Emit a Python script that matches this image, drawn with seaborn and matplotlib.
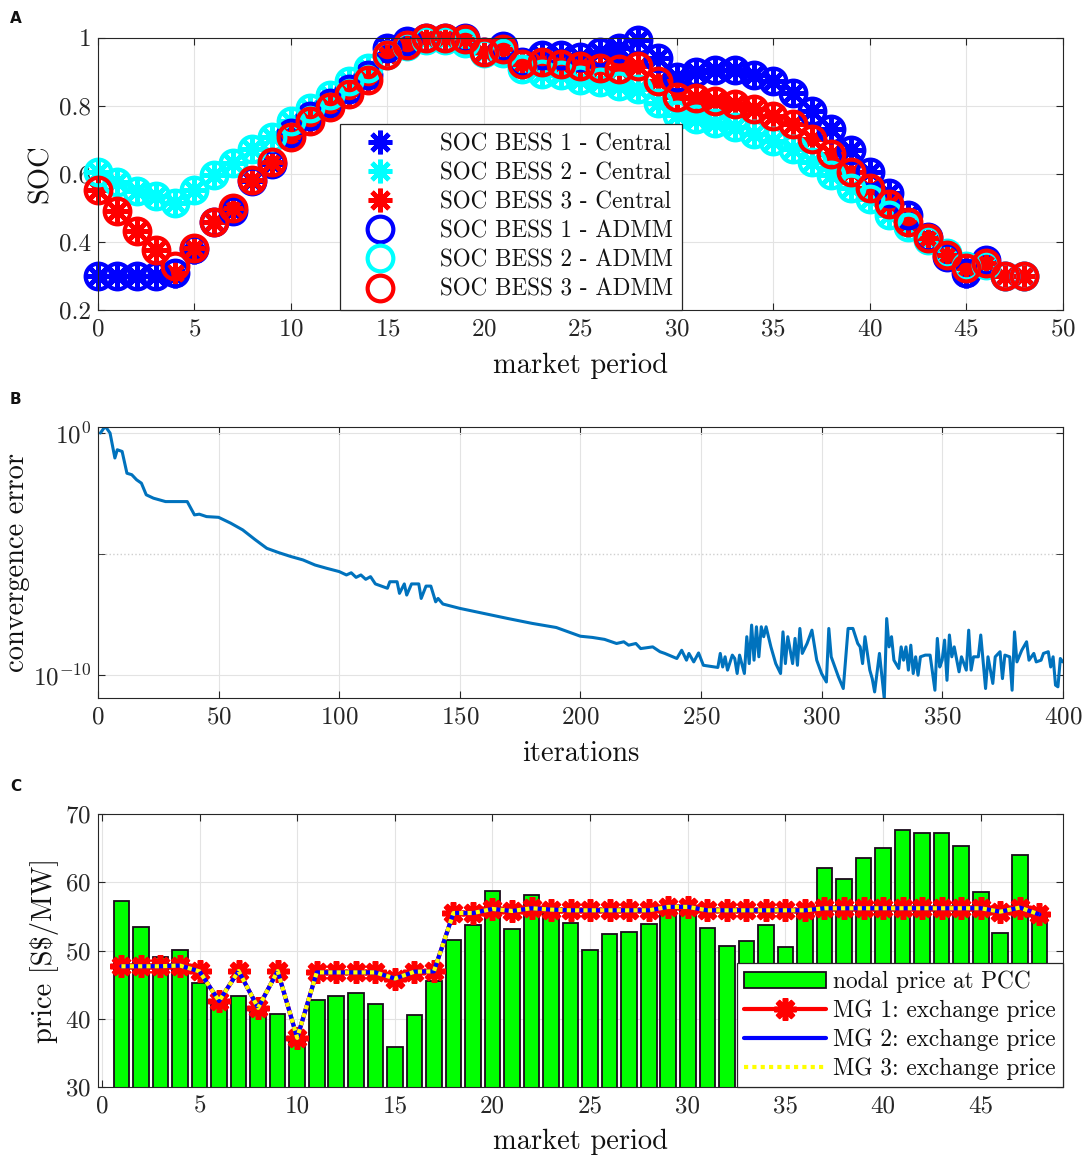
import numpy as np
import pandas as pd
import seaborn as sns
import matplotlib
matplotlib.use('Agg')
from matplotlib import pyplot as plt
from matplotlib.patches import Patch
from matplotlib.lines import Line2D


## DADOS - PAINEL A (SOC por periodo de mercado)

periods_a = list(range(49))

soc1_central = [0.30, 0.30, 0.30, 0.30, 0.30, 0.37, 0.46, 0.49, 0.58, 0.63,
                0.72, 0.77, 0.81, 0.86, 0.89, 0.975, 0.99, 1.0, 1.0, 1.0,
                0.955, 0.98, 0.93, 0.95, 0.95, 0.945, 0.96, 0.97, 0.995, 0.94,
                0.885, 0.90, 0.905, 0.907, 0.892, 0.872, 0.838, 0.786, 0.732, 0.669,
                0.607, 0.544, 0.48, 0.414, 0.357, 0.30, 0.347, 0.30, 0.30]
soc2_central = [0.605, 0.575, 0.551, 0.534, 0.514, 0.553, 0.598, 0.632, 0.673, 0.71,
                0.755, 0.794, 0.833, 0.872, 0.912, 0.95, 0.975, 0.995, 0.995, 0.985,
                0.955, 0.955, 0.91, 0.895, 0.89, 0.877, 0.869, 0.86, 0.85, 0.809,
                0.774, 0.762, 0.75, 0.737, 0.716, 0.696, 0.672, 0.635, 0.598, 0.558,
                0.526, 0.48, 0.445, 0.406, 0.367, 0.328, 0.333, 0.30, 0.30]
soc3_central = [0.553, 0.49, 0.433, 0.377, 0.31, 0.382, 0.46, 0.50, 0.583, 0.634,
                0.71, 0.755, 0.797, 0.836, 0.877, 0.951, 0.98, 1.0, 1.0, 0.997,
                0.958, 0.966, 0.923, 0.93, 0.924, 0.917, 0.912, 0.91, 0.917, 0.874,
                0.825, 0.823, 0.814, 0.807, 0.792, 0.769, 0.748, 0.704, 0.659, 0.607,
                0.558, 0.512, 0.46, 0.411, 0.362, 0.323, 0.338, 0.30, 0.30]

soc1_admm = [0.30, 0.30, 0.30, 0.30, 0.31, 0.38, 0.46, 0.49, 0.58, 0.63,
             0.72, 0.77, 0.81, 0.85, 0.89, 0.97, 0.99, 1.0, 1.0, 1.0,
             0.96, 0.975, 0.93, 0.95, 0.95, 0.945, 0.96, 0.97, 0.995, 0.94,
             0.885, 0.90, 0.905, 0.907, 0.892, 0.872, 0.838, 0.786, 0.732, 0.669,
             0.607, 0.544, 0.48, 0.414, 0.357, 0.31, 0.347, 0.30, 0.30]
soc2_admm = [0.605, 0.575, 0.551, 0.534, 0.514, 0.553, 0.598, 0.632, 0.673, 0.71,
             0.755, 0.794, 0.833, 0.872, 0.912, 0.95, 0.975, 0.995, 0.995, 0.985,
             0.955, 0.955, 0.91, 0.895, 0.89, 0.877, 0.869, 0.86, 0.85, 0.809,
             0.774, 0.762, 0.75, 0.737, 0.716, 0.696, 0.672, 0.635, 0.598, 0.558,
             0.526, 0.48, 0.445, 0.406, 0.367, 0.328, 0.333, 0.30, 0.30]
soc3_admm = [0.553, 0.49, 0.433, 0.377, 0.33, 0.382, 0.46, 0.50, 0.583, 0.634,
             0.71, 0.755, 0.797, 0.836, 0.877, 0.951, 0.98, 1.0, 1.0, 0.997,
             0.958, 0.966, 0.923, 0.93, 0.924, 0.917, 0.912, 0.91, 0.917, 0.874,
             0.825, 0.823, 0.814, 0.807, 0.792, 0.769, 0.748, 0.704, 0.659, 0.607,
             0.558, 0.512, 0.46, 0.411, 0.362, 0.323, 0.338, 0.30, 0.30]

labels_a = ['SOC BESS 1 - Central', 'SOC BESS 2 - Central', 'SOC BESS 3 - Central',
            'SOC BESS 1 - ADMM', 'SOC BESS 2 - ADMM', 'SOC BESS 3 - ADMM']
cores_bess = ['#0000ff', '#00ffff', '#ff0000']


## DADOS - PAINEL B (erro de convergencia, expoente log10)

iters = [1, 3, 5, 7, 8, 10, 12, 14, 16, 18, 20, 23, 28, 37, 40, 42, 45, 50, 55, 60,
         65, 70, 75, 80, 85, 90, 95, 100, 103, 105, 107, 109, 111, 113, 115, 120, 121, 124, 125, 127,
         128, 130, 133, 134, 136, 138, 140, 141, 143, 150, 160, 170, 180, 190, 200, 205, 210, 215, 218, 220,
         223, 225, 230, 233, 235, 240, 242, 244, 245, 247, 249, 251, 257, 258, 259, 260, 261, 263, 264, 265,
         266, 268, 269, 270, 271, 272, 273, 274, 275, 276, 277, 279, 281, 283, 284, 285, 286, 288, 289, 290,
         291, 292, 294, 296, 298, 300, 302, 303, 304, 307, 309, 311, 313, 315, 316, 317, 318, 320, 321, 322,
         324, 326, 327, 328, 329, 330, 332, 333, 334, 335, 336, 337, 338, 339, 340, 341, 343, 345, 347, 348,
         349, 350, 351, 352, 353, 354, 355, 357, 358, 360, 361, 362, 363, 365, 366, 368, 369, 371, 372, 374,
         375, 376, 378, 379, 380, 381, 383, 385, 386, 388, 389, 391, 392, 394, 395, 396, 397, 398, 399, 400]
log_err = [0.0, 0.28, 0.0, -1.03, -0.69, -0.76, -1.66, -1.72, -1.93, -2.07, -2.55, -2.69, -2.83, -2.83, -3.38, -3.35, -3.45, -3.48, -3.72, -4.0,
           -4.39, -4.76, -4.94, -5.10, -5.24, -5.45, -5.59, -5.72, -5.86, -5.77, -5.96, -5.86, -6.04, -5.93, -6.23, -6.41, -6.14, -6.14, -6.62, -6.23,
           -6.69, -6.23, -6.23, -6.83, -6.32, -6.32, -6.97, -6.83, -7.06, -7.24, -7.45, -7.66, -7.86, -8.03, -8.39, -8.44, -8.52, -8.69, -8.62, -8.76,
           -8.69, -8.90, -8.83, -9.03, -9.10, -9.31, -8.97, -9.38, -9.10, -9.45, -9.08, -9.59, -9.68, -9.10, -9.66, -9.24, -9.79, -9.17, -9.31, -9.93,
           -9.17, -9.93, -8.41, -9.52, -7.93, -9.38, -8.00, -9.24, -8.00, -8.41, -8.00, -8.83, -9.52, -9.93, -8.21, -9.52, -8.41, -9.52, -8.48, -9.59,
           -8.07, -9.10, -8.69, -8.14, -9.38, -9.93, -10.28, -8.07, -9.24, -10.07, -10.55, -8.07, -8.07, -8.69, -8.83, -9.52, -8.41, -9.79, -10.14, -10.69,
           -9.10, -10.97, -7.66, -8.83, -8.41, -9.38, -9.72, -8.83, -9.38, -8.83, -9.79, -8.76, -9.93, -9.24, -10.00, -9.24, -9.17, -9.17, -10.62, -8.48,
           -9.66, -9.38, -8.55, -10.21, -8.34, -9.24, -8.83, -9.86, -9.24, -9.79, -8.14, -9.79, -9.24, -9.24, -8.34, -10.55, -9.24, -10.34, -9.24, -9.03,
           -10.14, -9.17, -9.24, -10.62, -8.21, -9.45, -8.97, -8.62, -9.38, -9.10, -9.45, -9.38, -9.10, -9.03, -9.66, -9.24, -10.41, -10.48, -9.31, -9.45]


## DADOS - PAINEL C (precos)

periods_c = list(range(1, 49))
nodal_price = [57.2, 53.4, 49.0, 50.1, 45.3, 42.8, 43.4, 41.0, 40.7, 36.8,
               42.7, 43.3, 43.8, 42.2, 35.9, 40.6, 45.5, 51.6, 53.7, 58.7,
               53.1, 58.2, 55.5, 54.1, 50.1, 52.5, 52.7, 53.9, 55.8, 56.0,
               53.3, 50.6, 51.4, 53.7, 50.5, 55.5, 62.1, 60.5, 63.6, 65.1,
               67.7, 67.2, 67.3, 65.3, 58.6, 52.6, 64.0, 54.8]
exch_price = [47.7, 47.7, 47.7, 47.8, 46.95, 42.6, 47.0, 41.6, 47.0, 37.2,
              46.8, 46.8, 46.8, 46.8, 45.9, 46.9, 46.95, 55.5, 55.5, 56.1,
              55.8, 56.2, 56.0, 55.9, 55.9, 55.9, 55.9, 55.9, 56.4, 56.4,
              55.9, 55.9, 55.9, 55.9, 55.9, 55.9, 56.2, 56.2, 56.2, 56.2,
              56.2, 56.2, 56.2, 56.2, 56.2, 55.7, 56.3, 55.3]
labels_c = ['nodal price at PCC', 'MG 1: exchange price',
            'MG 2: exchange price', 'MG 3: exchange price']


## ESTILO

sns.set_style('whitegrid', rc={
    'axes.edgecolor': '#262626', 'axes.linewidth': 0.9,
    'grid.color': '#e3e3e3', 'grid.linewidth': 1.0,
    'xtick.direction': 'in', 'ytick.direction': 'in',
    'xtick.bottom': True, 'xtick.top': True,
    'ytick.left': True, 'ytick.right': True,
    'xtick.color': '#262626', 'ytick.color': '#262626',
})
plt.rcParams['font.family'] = ['cmr10', 'DejaVu Serif']
plt.rcParams['mathtext.fontset'] = 'cm'
plt.rcParams['axes.formatter.use_mathtext'] = True
plt.rcParams['xtick.major.size'] = 5
plt.rcParams['ytick.major.size'] = 5
plt.rcParams['xtick.major.pad'] = 6
plt.rcParams['ytick.major.pad'] = 5
plt.rcParams['xtick.labelsize'] = 18
plt.rcParams['ytick.labelsize'] = 18
plt.rcParams['axes.labelsize'] = 20.5
plt.rcParams['text.color'] = '#111111'
plt.rcParams['axes.labelcolor'] = '#111111'

fig = plt.figure(figsize=(10.84, 11.6), dpi=100)
ax1 = fig.add_axes([0.0904, 0.7328, 0.890, 0.2345])
ax2 = fig.add_axes([0.0904, 0.3983, 0.890, 0.2336])
ax3 = fig.add_axes([0.0904, 0.0629, 0.890, 0.2353])
for ax in (ax1, ax2, ax3):
    ax.set_axisbelow(True)


## PAINEL A

asterisco = (8, 2, 0)
for soc, cor, lab in zip([soc1_central, soc2_central, soc3_central], cores_bess, labels_a[:3]):
    sns.lineplot(x=periods_a, y=soc, ax=ax1, color=cor, linestyle='', marker=asterisco,
                 markersize=17, markeredgewidth=3.4, markeredgecolor=cor, label=lab, clip_on=False)
for soc, cor, lab in zip([soc1_admm, soc2_admm, soc3_admm], cores_bess, labels_a[3:]):
    sns.lineplot(x=periods_a, y=soc, ax=ax1, color=cor, linestyle='', marker='o',
                 markersize=18.5, markeredgewidth=3.0, markeredgecolor=cor, markerfacecolor='none',
                 label=lab, clip_on=False)

ax1.set_xlim(0, 50)
ax1.set_ylim(0.2, 1.0)
ax1.set_xticks(range(0, 51, 5))
ax1.set_yticks([0.2, 0.4, 0.6, 0.8, 1.0])
ax1.set_yticklabels(['0.2', '0.4', '0.6', '0.8', '1'])
ax1.set_xlabel('market period', labelpad=9)
ax1.set_ylabel('SOC', labelpad=4)
h, l = ax1.get_legend_handles_labels()
leg1 = ax1.legend(h, l, loc='lower left', bbox_to_anchor=(0.251, 0.0), borderaxespad=0,
                  fontsize=16.7, frameon=True, fancybox=False, edgecolor='#262626',
                  framealpha=1, labelspacing=0.3, handletextpad=1.3, borderpad=0.4,
                  handlelength=2.6)
leg1.get_frame().set_linewidth(0.9)


## PAINEL B

sns.lineplot(x=iters, y=10.0 ** np.array(log_err), ax=ax2, color='#0072BD', linewidth=2.2)
ax2.set_yscale('log')
ax2.set_xlim(0, 400)
ax2.set_ylim(10 ** -10.94, 10 ** 0.25)
ax2.set_xticks(range(0, 401, 50))
ax2.set_yticks([1e-10, 1e0])
ax2.set_yticklabels([r'$10^{-10}$', r'$10^{0}$'])
ax2.yaxis.set_minor_locator(matplotlib.ticker.FixedLocator([1e-5]))
ax2.yaxis.set_minor_formatter(matplotlib.ticker.NullFormatter())
ax2.tick_params(axis='y', which='minor', direction='in', length=5, left=True, right=True)
ax2.yaxis.grid(True, which='minor', linestyle=':', color='#cfcfcf', linewidth=1.0)
ax2.set_xlabel('iterations', labelpad=9)
ax2.set_ylabel('convergence error', labelpad=2)


## PAINEL C

sns.barplot(x=periods_c, y=nodal_price, ax=ax3, native_scale=True, color='#00ff00',
            saturation=1, edgecolor='#1a0a1a', linewidth=1.3, width=0.8)
sns.lineplot(x=periods_c, y=exch_price, ax=ax3, color='#ff0000', linewidth=3,
             marker=asterisco, markersize=16, markeredgewidth=4.0, markeredgecolor='#ff0000')
sns.lineplot(x=periods_c, y=exch_price, ax=ax3, color='#0000ff', linewidth=3)
sns.lineplot(x=periods_c, y=exch_price, ax=ax3, color='#ffff00', linewidth=3,
             linestyle=(0, (1, 1)))

ax3.set_xlim(-0.2, 49.2)
ax3.set_ylim(30, 70)
ax3.set_xticks(range(0, 46, 5))
ax3.set_xticklabels([str(v) for v in range(0, 46, 5)])
ax3.set_yticks(range(30, 71, 10))
ax3.set_xlabel('market period', labelpad=8)
ax3.set_ylabel(r'price [S\$/MW]', labelpad=4)
ax3.grid(True, axis='both')

handles_c = [Patch(facecolor='#00ff00', edgecolor='#1a0a1a', linewidth=1.3),
             Line2D([], [], color='#ff0000', linewidth=3, marker=asterisco, markersize=16,
                    markeredgewidth=4.0),
             Line2D([], [], color='#0000ff', linewidth=3),
             Line2D([], [], color='#ffff00', linewidth=3, linestyle=(0, (1, 1)))]
leg3 = ax3.legend(handles_c, labels_c, loc='lower right', borderaxespad=0, fontsize=16.8,
                  frameon=True, fancybox=False, edgecolor='#262626', framealpha=1,
                  handlelength=3.5, handletextpad=0.3, labelspacing=0.28, borderpad=0.3)
leg3.get_frame().set_linewidth(0.9)


## LETRAS DOS PAINEIS

for letra, yy in zip(['A', 'B', 'C'], [0.984, 0.656, 0.322]):
    fig.text(0.009, yy, letra, fontsize=11, fontweight='bold', family='DejaVu Sans',
             va='center', ha='left')

plt.savefig('out.png', dpi=100)
